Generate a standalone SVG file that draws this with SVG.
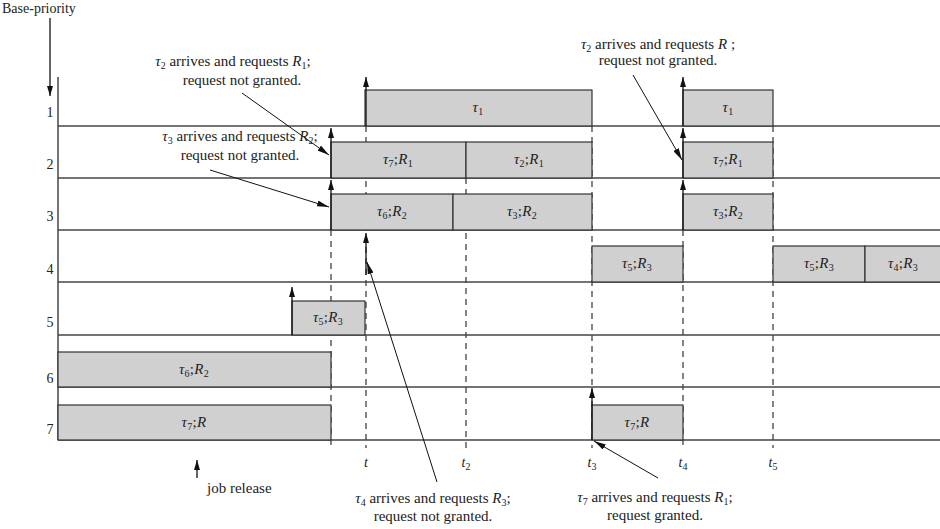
<svg xmlns="http://www.w3.org/2000/svg" width="940" height="529" viewBox="0 0 940 529">
<style>
text{font-family:"Liberation Serif","DejaVu Serif",serif;font-size:14px;fill:#222}
.n text,text.n{font-size:15px}
.c{text-anchor:middle}
.i{font-style:italic}
.s{font-size:10px}
.lb{font-size:15px;letter-spacing:0.3px}
.row{stroke:#444;stroke-width:1.5;fill:none}
.box{fill:#d0d0d0;stroke:#333;stroke-width:1.2}
.dash{stroke:#333;stroke-width:1.2;stroke-dasharray:6,5;fill:none}
.rel{stroke:#111;stroke-width:1.3;fill:none;marker-end:url(#ah)}
.ann{stroke:#111;stroke-width:1;fill:none;marker-end:url(#ah2)}
</style>
<defs>
<marker id="ah" viewBox="0 0 10 6" refX="10" refY="3" markerWidth="10" markerHeight="6" orient="auto" markerUnits="userSpaceOnUse"><path d="M0,0 L10,3 L0,6 z" fill="#111"/></marker>
<marker id="ah2" viewBox="0 0 12 6" refX="12" refY="3" markerWidth="12" markerHeight="6" orient="auto" markerUnits="userSpaceOnUse"><path d="M0,0 L12,3 L0,6 z" fill="#111"/></marker>
</defs>
<rect width="940" height="529" fill="#fff"/>

<g id="axis">
<text x="2" y="13" font-size="12">Base-priority</text>
<line x1="50" y1="18" x2="50" y2="96" class="rel"/>
<line x1="58" y1="77" x2="58" y2="440" class="row"/>
<text x="50" y="117" class="c">1</text>
<text x="50" y="169" class="c">2</text>
<text x="50" y="221" class="c">3</text>
<text x="50" y="274" class="c">4</text>
<text x="50" y="327" class="c">5</text>
<text x="50" y="383" class="c">6</text>
<text x="50" y="434" class="c">7</text>
</g>

<g id="dashes">
<line x1="331" y1="230" x2="331" y2="448" class="dash"/>
<line x1="366" y1="126" x2="366" y2="448" class="dash"/>
<line x1="466" y1="178" x2="466" y2="448" class="dash"/>
<line x1="592" y1="126" x2="592" y2="448" class="dash"/>
<line x1="683" y1="230" x2="683" y2="448" class="dash"/>
<line x1="773" y1="126" x2="773" y2="448" class="dash"/>
</g>

<g id="rows">
<line x1="58" y1="126" x2="940" y2="126" class="row"/>
<line x1="58" y1="178" x2="940" y2="178" class="row"/>
<line x1="58" y1="230" x2="940" y2="230" class="row"/>
<line x1="58" y1="282" x2="940" y2="282" class="row"/>
<line x1="58" y1="335" x2="940" y2="335" class="row"/>
<line x1="58" y1="387" x2="940" y2="387" class="row"/>
<line x1="58" y1="440" x2="940" y2="440" class="row"/>
</g>

<g id="row1">
<rect x="365" y="90" width="227" height="36" class="box"/>
<text x="478" y="112" class="c lb"><tspan class="i">τ</tspan><tspan class="s" dy="3">1</tspan></text>
<rect x="683" y="90" width="90" height="36" class="box"/>
<text x="728" y="112" class="c lb"><tspan class="i">τ</tspan><tspan class="s" dy="3">1</tspan></text>
</g>

<g id="row2">
<rect x="331" y="142" width="135" height="36" class="box"/>
<text x="398" y="164" class="c lb"><tspan class="i">τ</tspan><tspan class="s" dy="3">7</tspan><tspan dy="-3">;</tspan><tspan class="i">R</tspan><tspan class="s" dy="3">1</tspan></text>
<rect x="466" y="142" width="126" height="36" class="box"/>
<text x="529" y="164" class="c lb"><tspan class="i">τ</tspan><tspan class="s" dy="3">2</tspan><tspan dy="-3">;</tspan><tspan class="i">R</tspan><tspan class="s" dy="3">1</tspan></text>
<rect x="683" y="142" width="90" height="36" class="box"/>
<text x="728" y="164" class="c lb"><tspan class="i">τ</tspan><tspan class="s" dy="3">7</tspan><tspan dy="-3">;</tspan><tspan class="i">R</tspan><tspan class="s" dy="3">1</tspan></text>
</g>

<g id="row3">
<rect x="331" y="194" width="122" height="36" class="box"/>
<text x="392" y="216" class="c lb"><tspan class="i">τ</tspan><tspan class="s" dy="3">6</tspan><tspan dy="-3">;</tspan><tspan class="i">R</tspan><tspan class="s" dy="3">2</tspan></text>
<rect x="453" y="194" width="139" height="36" class="box"/>
<text x="522" y="216" class="c lb"><tspan class="i">τ</tspan><tspan class="s" dy="3">3</tspan><tspan dy="-3">;</tspan><tspan class="i">R</tspan><tspan class="s" dy="3">2</tspan></text>
<rect x="683" y="194" width="90" height="36" class="box"/>
<text x="728" y="216" class="c lb"><tspan class="i">τ</tspan><tspan class="s" dy="3">3</tspan><tspan dy="-3">;</tspan><tspan class="i">R</tspan><tspan class="s" dy="3">2</tspan></text>
</g>

<g id="row4">
<rect x="592" y="246" width="91" height="36" class="box"/>
<text x="637" y="268" class="c lb"><tspan class="i">τ</tspan><tspan class="s" dy="3">5</tspan><tspan dy="-3">;</tspan><tspan class="i">R</tspan><tspan class="s" dy="3">3</tspan></text>
<rect x="773" y="246" width="92" height="36" class="box"/>
<text x="819" y="268" class="c lb"><tspan class="i">τ</tspan><tspan class="s" dy="3">5</tspan><tspan dy="-3">;</tspan><tspan class="i">R</tspan><tspan class="s" dy="3">3</tspan></text>
<rect x="865" y="246" width="76" height="36" class="box"/>
<text x="903" y="268" class="c lb"><tspan class="i">τ</tspan><tspan class="s" dy="3">4</tspan><tspan dy="-3">;</tspan><tspan class="i">R</tspan><tspan class="s" dy="3">3</tspan></text>
</g>

<g id="row5">
<rect x="292" y="301" width="73" height="34" class="box"/>
<text x="328" y="322" class="c lb"><tspan class="i">τ</tspan><tspan class="s" dy="3">5</tspan><tspan dy="-3">;</tspan><tspan class="i">R</tspan><tspan class="s" dy="3">3</tspan></text>
</g>

<g id="row6">
<rect x="58" y="352" width="273" height="35" class="box"/>
<text x="194" y="374" class="c lb"><tspan class="i">τ</tspan><tspan class="s" dy="3">6</tspan><tspan dy="-3">;</tspan><tspan class="i">R</tspan><tspan class="s" dy="3">2</tspan></text>
</g>

<g id="row7">
<rect x="58" y="405" width="273" height="35" class="box"/>
<text x="194" y="427" class="c lb"><tspan class="i">τ</tspan><tspan class="s" dy="3">7</tspan><tspan dy="-3">;</tspan><tspan class="i">R</tspan></text>
<rect x="592" y="405" width="91" height="35" class="box"/>
<text x="637" y="427" class="c lb"><tspan class="i">τ</tspan><tspan class="s" dy="3">7</tspan><tspan dy="-3">;</tspan><tspan class="i">R</tspan></text>
</g>

<g id="connectors">
<line x1="366" y1="126" x2="366" y2="77" class="rel"/>
<line x1="331" y1="178" x2="331" y2="128" class="rel"/>
<line x1="331" y1="230" x2="331" y2="180" class="rel"/>
<line x1="366" y1="275" x2="366" y2="233" class="rel"/>
<line x1="292" y1="335" x2="292" y2="287" class="rel"/>
<line x1="592" y1="440" x2="592" y2="388" class="rel"/>
<line x1="683" y1="126" x2="683" y2="77" class="rel"/>
<line x1="683" y1="178" x2="683" y2="128" class="rel"/>
<line x1="683" y1="230" x2="683" y2="180" class="rel"/>
<line x1="242" y1="93" x2="329" y2="155" class="ann"/>
<line x1="210" y1="170" x2="329" y2="207" class="ann"/>
<line x1="633" y1="75" x2="682" y2="160" class="ann"/>
<line x1="437" y1="482" x2="367" y2="262" class="ann"/>
<line x1="658" y1="478" x2="594" y2="441" class="ann"/>
<line x1="197" y1="478" x2="197" y2="460" class="rel"/>
</g>

<g id="timelabels">
<text x="366" y="467" class="c i">t</text>
<text x="466" y="467" class="c"><tspan class="i">t</tspan><tspan class="s" dy="3">2</tspan></text>
<text x="592" y="467" class="c"><tspan class="i">t</tspan><tspan class="s" dy="3">3</tspan></text>
<text x="683" y="467" class="c"><tspan class="i">t</tspan><tspan class="s" dy="3">4</tspan></text>
<text x="773" y="467" class="c"><tspan class="i">t</tspan><tspan class="s" dy="3">5</tspan></text>
</g>

<g id="notes" class="n">
<text x="233" y="66" class="c"><tspan class="i">τ</tspan><tspan class="s" dy="3">2</tspan><tspan dy="-3"> arrives and requests </tspan><tspan class="i">R</tspan><tspan class="s" dy="3">1</tspan><tspan dy="-3">;</tspan></text>
<text x="242" y="85" class="c">request not granted.</text>
<text x="240" y="141" class="c"><tspan class="i">τ</tspan><tspan class="s" dy="3">3</tspan><tspan dy="-3"> arrives and requests </tspan><tspan class="i">R</tspan><tspan class="s" dy="3">2</tspan><tspan dy="-3">;</tspan></text>
<text x="240" y="160" class="c">request not granted.</text>
<text x="658" y="49" class="c"><tspan class="i">τ</tspan><tspan class="s" dy="3">2</tspan><tspan dy="-3"> arrives and requests </tspan><tspan class="i">R</tspan><tspan> ;</tspan></text>
<text x="658" y="65" class="c">request not granted.</text>
<text x="433" y="503" class="c"><tspan class="i">τ</tspan><tspan class="s" dy="3">4</tspan><tspan dy="-3"> arrives and requests </tspan><tspan class="i">R</tspan><tspan class="s" dy="3">3</tspan><tspan dy="-3">;</tspan></text>
<text x="433" y="521" class="c">request not granted.</text>
<text x="655" y="502" class="c"><tspan class="i">τ</tspan><tspan class="s" dy="3">7</tspan><tspan dy="-3"> arrives and requests </tspan><tspan class="i">R</tspan><tspan class="s" dy="3">1</tspan><tspan dy="-3">;</tspan></text>
<text x="655" y="520" class="c">request granted.</text>
<text x="207" y="493">job release</text>
</g>
</svg>
